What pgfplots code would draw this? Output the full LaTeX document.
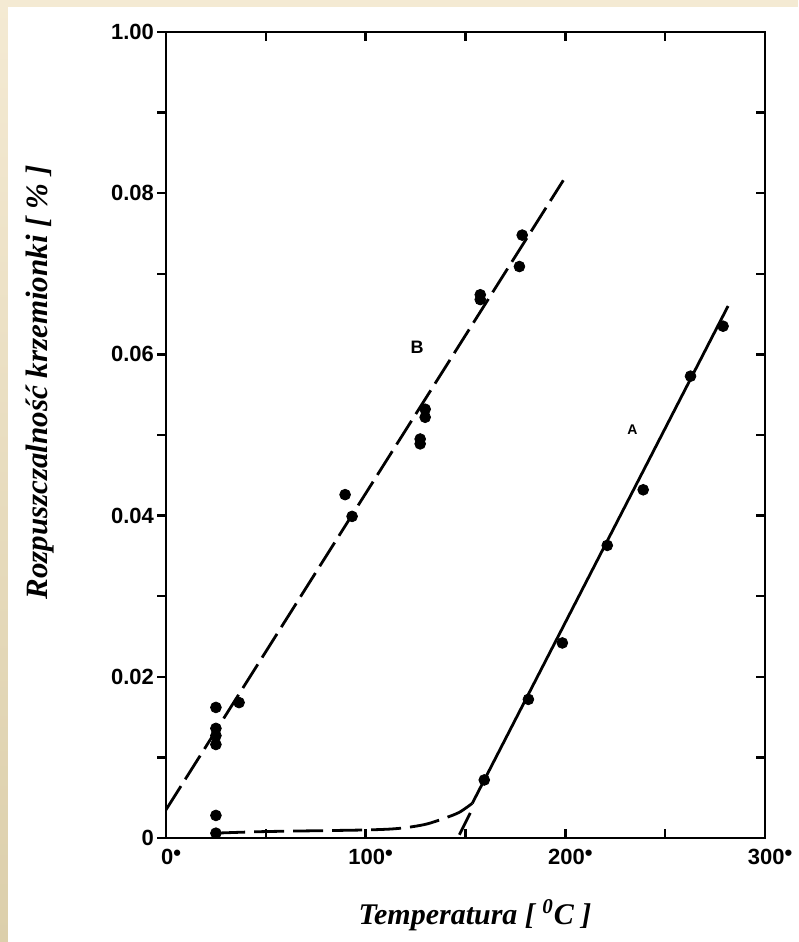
\documentclass[border=0pt]{standalone}
\usepackage{fontspec}
\setmainfont{Liberation Serif}
\newfontfamily\tickfont{Liberation Sans}
\usepackage{pgfplots}
\pgfplotsset{compat=1.18}
\usetikzlibrary{calc}

\definecolor{beigetop}{HTML}{F4EAD3}
\definecolor{beigebot}{HTML}{DCCFAB}
\newcommand{\dg}[1]{#1\raisebox{0.3ex}{•}}

% measured points, B (dashed) and A (solid)
\pgfplotstableread{
x y
25 0.0162
25 0.0136
25 0.0127
25 0.0116
25 0.0028
25 0.0006
36.6 0.0168
89.7 0.0426
93.2 0.0399
129.8 0.0532
129.8 0.0522
127.3 0.0495
127.3 0.0489
157.4 0.0674
157.4 0.0668
177.0 0.0709
178.4 0.0748
}\ptsB
\pgfplotstableread{
x y
159.4 0.0072
181.5 0.0172
198.5 0.0242
221.0 0.0363
239.0 0.0432
262.7 0.0573
279.0 0.0635
}\ptsA

\begin{document}
\begin{tikzpicture}
\pgfplotsset{
  base/.style={
    scale only axis, width=299.5pt, height=403pt,
    xmin=0, xmax=300, ymin=0, ymax=0.1,
    axis line style={line width=1.4pt},
    every tick/.style={black, line width=1.2pt},
    major tick length=4.5pt, minor tick length=4.5pt,
    tick label style={font=\tickfont\bfseries\fontsize{11}{13}\selectfont},
  },
}
\begin{axis}[base, name=ax,
  tick align=inside,
  xtick={0,100,200,300}, minor xtick={50,150,250},
  xticklabels={\dg{0},\dg{100},\dg{200},\dg{300}},
  xticklabel style={yshift=-2pt, xshift=2.5pt},
  ytick pos=right,
  ytick={0,0.01,0.02,0.03,0.04,0.05,0.06,0.07,0.08,0.09,0.1},
  yticklabels={},
]
% line B
\addplot[black, line width=1.4pt, dash pattern=on 14pt off 4pt] coordinates {(0,0.0035) (199,0.0816)};
% low-temperature curve
\addplot[black, line width=1.4pt, smooth, dash pattern=on 15pt off 4.5pt] coordinates {
 (24.6,0.0006) (50,0.0008) (100,0.0010) (117,0.0012) (130,0.0017) (140,0.0025) (147,0.0032) (153.4,0.0043)};
% line A
\addplot[black, line width=1.4pt] coordinates {(153.4,0.0043) (281.5,0.0660)};
\addplot[black, line width=1.4pt] coordinates {(146.9,0.0004) (152.4,0.0031)};
\addplot[only marks, mark=*, mark size=2.7pt, black] table {\ptsB};
\addplot[only marks, mark=*, mark size=2.7pt, black] table {\ptsA};
\node[font=\tickfont\bfseries\fontsize{9}{10}\selectfont] at (axis cs:125.8,0.0609) {B};
\node[font=\tickfont\bfseries\fontsize{7}{8}\selectfont] at (axis cs:233.6,0.0506) {A};
\end{axis}

\begin{axis}[base, at={(ax.south west)}, anchor=south west,
  hide x axis, axis y line*=left, tick align=outside,
  ytick={0,0.02,0.04,0.06,0.08,0.1},
  minor ytick={0.01,0.03,0.05,0.07,0.09},
  yticklabels={0,0.02,0.04,0.06,0.08,1.00},
  yticklabel style={xshift=2pt},
]
\end{axis}

\node[rotate=90, font=\bfseries\itshape\fontsize{15.5}{18}\selectfont]
  at ($(ax.south west)+(-63pt,227.7pt)$) {Rozpuszczalność krzemionki [ \% ]};
\node[font=\bfseries\itshape\fontsize{15}{18}\selectfont]
  at ($(ax.south west)+(154.5pt,-38.5pt)$) {Temperatura [ \textsuperscript{0}C ]};

\pgfresetboundingbox
\path[use as bounding box] ($(ax.south west)+(-83pt,-52pt)$) rectangle ($(ax.north east)+(16.5pt,16pt)$);
\shade[top color=beigetop, bottom color=beigebot] ($(ax.south west)+(-83pt,-52pt)$) rectangle ($(ax.north west)+(-79pt,16pt)$);
\fill[beigetop] ($(ax.north west)+(-83pt,12.5pt)$) rectangle ($(ax.north east)+(16.5pt,16pt)$);
\end{tikzpicture}
\end{document}
